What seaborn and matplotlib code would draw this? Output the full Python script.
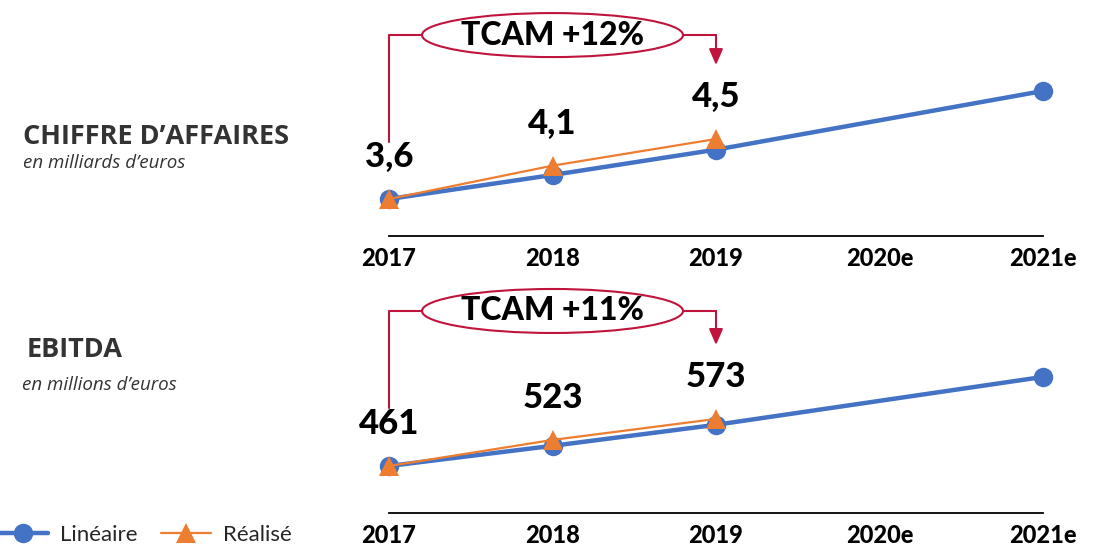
import numpy as np
import pandas as pd
import seaborn as sns
import matplotlib.pyplot as plt
from matplotlib.patches import Ellipse
from matplotlib.transforms import blended_transform_factory

# données
years = ["2017", "2018", "2019", "2020e", "2021e"]
ca_lineaire = [3.6, 3.96, 4.34, np.nan, 5.22]
ca_realise = [3.6, 4.1, 4.5]
ebitda_lineaire = [461, 509, 559, np.nan, 673]
ebitda_realise = [461, 523, 573]
ca_labels = ["3,6", "4,1", "4,5"]
ebitda_labels = ["461", "523", "573"]
tcam = ["TCAM +12%", "TCAM +11%"]

BLUE = "#4472C4"
ORANGE = "#ED7D31"
RED = "#C0143C"
DARK = "#333333"

sns.set_theme(style="white")
plt.rcParams["font.family"] = ["Lato", "DejaVu Sans"]

fig = plt.figure(figsize=(10.97, 5.47), dpi=100)
W, H = 1097, 547

def make_ax(spine_px):
    left = 389 / W
    width = (1043 - 389) / W
    bottom = 1 - spine_px / H
    return fig.add_axes([left, bottom, width, 156 / H])

ax1 = make_ax(236)
ax2 = make_ax(513)

panels = [
    (ax1, ca_lineaire, ca_realise, ca_labels, tcam[0], (3.045, 5.385), 0.605, 1.288, 1.096),
    (ax2, ebitda_lineaire, ebitda_realise, ebitda_labels, tcam[1], (349.1, 720.4), 0.670, 1.295, 1.077),
]

x_all = list(range(len(years)))
for ax, lin, real, labs, tc, ylim, y_start, y_ell, y_tip in panels:
    df_lin = pd.DataFrame({"x": x_all, "v": lin})
    df_real = pd.DataFrame({"x": x_all[:len(real)], "v": real})
    sns.lineplot(data=df_lin, x="x", y="v", ax=ax, color=BLUE, linewidth=3.2,
                 marker="o", markersize=14, markeredgewidth=0, label="Linéaire",
                 clip_on=False)
    sns.lineplot(data=df_real, x="x", y="v", ax=ax, color=ORANGE, linewidth=1.6,
                 marker="^", markersize=14, markeredgewidth=0, label="Réalisé",
                 clip_on=False)
    for xi, v, lab in zip(df_real["x"], real, labs):
        ax.annotate(lab, (xi, v), xytext=(0, 30), textcoords="offset points",
                    ha="center", va="center", fontsize=25, fontweight=900,
                    color="black")

    ax.set_xlim(0, 4)
    ax.set_ylim(*ylim)
    ax.set_xticks(x_all)
    ax.set_xticklabels(years, fontsize=17, fontweight=900, color="black")
    ax.tick_params(axis="x", length=0, pad=8)
    ax.set_yticks([])
    ax.set_xlabel("")
    ax.set_ylabel("")
    for s in ["left", "top", "right"]:
        ax.spines[s].set_visible(False)
    ax.spines["bottom"].set_color("black")
    ax.spines["bottom"].set_linewidth(1.3)
    ax.get_legend().remove()

    # bulle TCAM
    tr = blended_transform_factory(ax.transData, ax.transAxes)
    ell_w = 261 / 163.5
    ell_h = 44 / 156
    ax.add_patch(Ellipse((1, y_ell), ell_w, ell_h, transform=tr, fill=False,
                         edgecolor=RED, linewidth=1.5, clip_on=False))
    ax.text(1, y_ell, tc, transform=tr, ha="center", va="center", fontsize=23,
            fontweight=900, color="black")
    ax.plot([0, 0, 1 - ell_w / 2], [y_start, y_ell, y_ell], transform=tr,
            color=RED, linewidth=1.5, clip_on=False)
    ax.plot([1 + ell_w / 2, 2], [y_ell, y_ell], transform=tr,
            color=RED, linewidth=1.5, clip_on=False)
    ax.annotate("", xy=(2, y_tip), xytext=(2, y_ell), xycoords=tr, textcoords=tr,
                arrowprops=dict(arrowstyle="-|>,head_width=0.35,head_length=0.8",
                                color=RED, linewidth=1.5, shrinkA=0, shrinkB=0))

# libellés de gauche
side = ["Open Sans", "DejaVu Sans"]
fig.text(23 / W, 1 - 137 / H, "CHIFFRE D’AFFAIRES", fontsize=19.5, fontweight="bold",
         color=DARK, va="center", ha="left", family=side)
fig.text(23 / W, 1 - 163 / H, "en milliards d’euros", fontsize=13.5, style="italic",
         color=DARK, va="center", ha="left", family=side)
fig.text(27 / W, 1 - 350 / H, "EBITDA", fontsize=19.5, fontweight="bold",
         color=DARK, va="center", ha="left", family=side)
fig.text(22 / W, 1 - 385 / H, "en millions d’euros", fontsize=13.5, style="italic",
         color=DARK, va="center", ha="left", family=side)

handles, labels = ax2.get_legend_handles_labels()
fig.legend(handles, labels, loc="center left", bbox_to_anchor=(-0.002, 1 - 535 / H),
           ncol=2, frameon=False, fontsize=16, handlelength=2.25, handletextpad=0.55,
           columnspacing=1.05, borderaxespad=0, borderpad=0)

fig.savefig("out.png", dpi=100)
